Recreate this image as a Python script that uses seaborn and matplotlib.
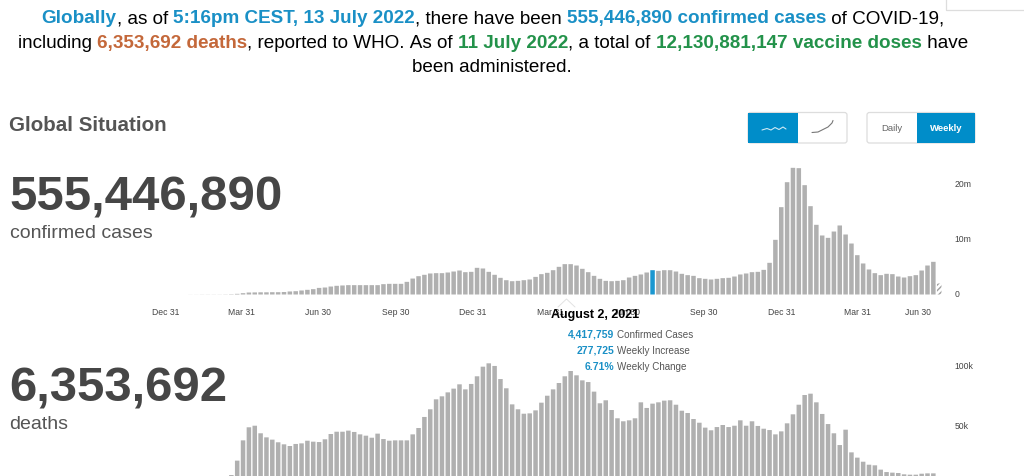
import pandas as pd
import seaborn as sns
import matplotlib.pyplot as plt
from matplotlib.patches import FancyBboxPatch, Rectangle
from matplotlib.transforms import ScaledTranslation

# weekly values, week 0 = Dec 30 2019, week 132 = Jul 11 2022 (partial)
cases_m = [
    0.0, 0.0, 0.0, 0.0, 0.01, 0.01, 0.02, 0.02, 0.02, 0.02, 0.03,
    0.06, 0.12, 0.24, 0.36, 0.38, 0.4, 0.4, 0.42, 0.42, 0.45, 0.55,
    0.6, 0.73, 0.85, 0.97, 1.2, 1.27, 1.45, 1.58, 1.64, 1.7, 1.7, 1.7,
    1.7, 1.7, 1.7, 1.88, 1.94, 1.94, 1.94, 2.3, 2.9, 3.33, 3.58, 3.82,
    3.88, 3.88, 4.0, 4.18, 4.36, 4.06, 4.12, 4.85, 4.73, 4.12, 3.58,
    3.03, 2.6, 2.42, 2.48, 2.6, 2.73, 3.2, 3.7, 3.94, 4.42, 5.03, 5.52,
    5.52, 5.27, 4.67, 4.06, 3.39, 2.85, 2.48, 2.42, 2.48, 2.6, 3.09,
    3.39, 3.64, 4.0, 4.42, 4.3, 4.42, 4.42, 4.18, 3.76, 3.52, 3.39,
    2.97, 2.85, 2.73, 2.85, 2.97, 3.03, 3.27, 3.64, 3.82, 4.06, 4.12,
    4.48, 5.76, 9.94, 15.88, 20.42, 23.03, 22.97, 19.88, 16.06, 12.67,
    10.73, 10.3, 11.45, 12.55, 10.91, 9.27, 7.15, 5.64, 4.55, 3.88,
    3.52, 3.76, 3.7, 3.27, 3.09, 3.33, 3.52, 4.36, 5.27, 5.94, 2.0,
]
deaths_k = [
    0.0, 0.0, 0.0, 0.0, 0.0, 0.0, 0.1, 0.1, 0.2, 0.3, 1.0,
    8.3, 20.3, 37.2, 48.1, 49.4, 43.1, 39.7, 37.8, 35.6, 33.9, 32.5,
    34.2, 34.7, 36.9, 36.1, 35.8, 38.1, 42.5, 44.4, 44.4, 45.3, 44.2,
    42.2, 41.1, 39.4, 42.8, 38.3, 36.9, 37.2, 37.2, 37.2, 42.2, 47.5,
    56.7, 63.1, 71.4, 73.9, 77.2, 80.3, 83.9, 79.7, 84.2, 90.6, 98.6,
    101.4, 99.2, 88.3, 80.6, 67.2, 63.1, 59.4, 59.7, 62.2, 68.6, 74.4,
    79.7, 85.0, 90.6, 95.0, 91.4, 87.2, 85.8, 77.8, 68.1, 70.6, 62.5,
    55.6, 53.1, 53.9, 55.6, 68.9, 64.2, 67.8, 68.9, 70.3, 70.6, 66.9,
    61.9, 60.0, 55.0, 51.9, 47.8, 45.6, 48.3, 50.0, 48.3, 49.4, 53.9,
    49.4, 53.1, 49.2, 46.9, 45.8, 42.2, 44.7, 51.4, 58.9, 66.9, 75.0,
    76.1, 68.9, 59.2, 50.8, 43.1, 33.3, 46.1, 27.2, 22.8, 19.4, 16.9,
    16.4, 12.8, 10.8, 10.3, 10.0, 8.9, 8.6, 8.6, 9.4, 9.7, 9.7, 3.0,
]
selected_week = 83
partial_week = 132

month_ticks = [-0.3, 12.8, 25.8, 39.1, 52.3, 65.5, 78.6, 91.8, 105.1, 118, 128.4]
month_labels = ["Dec 31", "Mar 31", "Jun 30", "Sep 30", "Dec 31", "Mar 31",
                "Jun 30", "Sep 30", "Dec 31", "Mar 31", "Jun 30"]
cases_ticks = [0, 10, 20]
cases_tick_labels = ["0", "10m", "20m"]
deaths_ticks = [50, 100]
deaths_tick_labels = ["50k", "100k"]

BLUE = "#1a90c6"
ORANGE = "#c4683a"
GREEN = "#23924a"
BAR = "#b0b0b0"
DARK = "#464646"
W, H = 1024, 477

sns.set_style("white")
plt.rcParams["font.family"] = ["Liberation Sans", "DejaVu Sans"]

fig = plt.figure(figsize=(W / 100, H / 100), dpi=100)


def bar_panel(values, top_px, base_px, ymax, highlight=None):
    ax = fig.add_axes([161.15 / W, (H - base_px) / H, 783.9 / W, (base_px - top_px) / H])
    df = pd.DataFrame({"week": range(len(values)), "value": values})
    df["kind"] = "normal"
    if highlight is not None:
        df.loc[df["week"] == highlight, "kind"] = "selected"
    df.loc[df["week"] == partial_week, "kind"] = "partial"
    sns.barplot(data=df, x="week", y="value", hue="kind", dodge=False,
                palette={"normal": BAR, "selected": "#1b97d0", "partial": "#ffffff"},
                saturation=1, native_scale=True, width=0.77, legend=False,
                linewidth=0, ax=ax)
    for patch in ax.patches:
        patch.set_snap(False)
        if abs(patch.get_x() + patch.get_width() / 2 - partial_week) < 0.2:
            patch.set_hatch("//////")
            patch.set_edgecolor("#a0a0a0")
    ax.set_xlim(-1, 133)
    ax.set_ylim(0, ymax)
    ax.set_xlabel("")
    ax.set_ylabel("")
    ax.yaxis.tick_right()
    sns.despine(ax=ax, left=True, bottom=True)
    ax.patch.set_alpha(0)
    return ax


ax_cases = bar_panel(cases_m, 165, 295.5, 130.5 / 5.5, highlight=selected_week)
ax_cases.set_yticks(cases_ticks, cases_tick_labels)
ax_cases.set_xticks(month_ticks, month_labels)
ax_cases.tick_params(axis="y", length=0, pad=7, labelsize=6.2, labelcolor="#444444")
ax_cases.tick_params(axis="x", length=0, pad=9, labelsize=6.2, labelcolor="#444444")
nudge = ScaledTranslation(0, 1.2 / 72, fig.dpi_scale_trans)
for label in ax_cases.get_yticklabels():
    label.set_transform(label.get_transform() + nudge)

ax_deaths = bar_panel(deaths_k, 355, 486, 131 / 1.2)
ax_deaths.set_yticks(deaths_ticks, deaths_tick_labels)
ax_deaths.set_xticks([])
ax_deaths.tick_params(axis="y", length=0, pad=7, labelsize=6.2, labelcolor="#444444")

# page furniture in pixel coordinates
page = fig.add_axes([0, 0, 1, 1], zorder=5)
page.set_xlim(0, W)
page.set_ylim(H, 0)
page.axis("off")
page.patch.set_alpha(0)


def coloured_line(parts, centre, baseline, size=13.6):
    renderer = fig.canvas.get_renderer()
    texts = []
    total = 0
    for label, colour in parts:
        weight = "normal" if colour == "black" else "bold"
        t = page.text(0, baseline, label.replace(" ", "\u00a0"), color=colour,
                      fontsize=size, fontweight=weight, va="baseline", ha="left")
        width = t.get_window_extent(renderer).width
        texts.append((t, width))
        total += width
    x = centre - total / 2
    for t, width in texts:
        t.set_x(x)
        x += width


coloured_line([("Globally", BLUE), (", as of ", "black"),
               ("5:16pm CEST, 13 July 2022", BLUE),
               (", there have been ", "black"),
               ("555,446,890 confirmed cases", BLUE),
               (" of COVID-19,", "black")], 493, 23)
coloured_line([("including ", "black"), ("6,353,692 deaths", ORANGE),
               (", reported to WHO. As of ", "black"), ("11 July 2022", GREEN),
               (", a total of ", "black"),
               ("12,130,881,147 vaccine doses", GREEN), (" have", "black")], 493, 48)
coloured_line([("been administered.", "black")], 492, 72)

page.text(9, 131, "Global Situation", fontsize=14.8, fontweight="bold", color="#555555")
page.text(9, 211, "555,446,890", fontsize=35.4, fontweight="bold", color=DARK)
page.text(9.5, 238, "confirmed cases", fontsize=14, color="#555555")
page.text(9, 402, "6,353,692", fontsize=35.4, fontweight="bold", color=DARK)
page.text(9.5, 429, "deaths", fontsize=14, color="#555555")


def button_group(left, split, right, top, bottom, active_first):
    page.add_patch(FancyBboxPatch((left, top), right - left, bottom - top,
                                  boxstyle="round,pad=0,rounding_size=2.5",
                                  fc="white", ec="#dddddd", lw=0.9))
    x0, x1 = (left, split) if active_first else (split, right)
    page.add_patch(Rectangle((x0, top), x1 - x0, bottom - top, fc="#008dc9", ec="none"))


button_group(748, 798, 847, 113.5, 144, True)
button_group(867, 917, 975, 113.5, 144, False)
page.plot([762, 767, 771, 775, 779, 783, 786], [131, 129.5, 131, 128.5, 130.5, 128, 130],
          color="#cfe9f5", lw=0.8)
page.plot([812, 818, 823, 828, 832, 833], [133.5, 133, 130.5, 128, 124, 121.5],
          color="#777777", lw=0.8)
page.text(892, 129, "Daily", fontsize=6.8, color="#666666", ha="center", va="center")
page.text(946, 129, "Weekly", fontsize=6.8, color="white", fontweight="bold", ha="center", va="center")
page.plot([946, 946, 1024], [0, 11, 11], color="#dddddd", lw=0.9)

# tooltip for the selected week
page.plot([558, 566.5, 575], [308, 300, 308], color="#e2e2e2", lw=0.7)
page.text(595, 315, "August 2, 2021", fontsize=9.0, fontweight="bold", color="black",
          ha="center", va="center")
tip_values = ["4,417,759", "277,725", "6.71%"]
tip_labels = ["Confirmed Cases", "Weekly Increase", "Weekly Change"]
for y, value, label in zip([335, 351, 367], tip_values, tip_labels):
    page.text(614, y, value, fontsize=7.5, fontweight="bold", color=BLUE, ha="right", va="center")
    page.text(617, y, label, fontsize=7.1, color="#555555", ha="left", va="center")

fig.savefig("out.png", dpi=100)
